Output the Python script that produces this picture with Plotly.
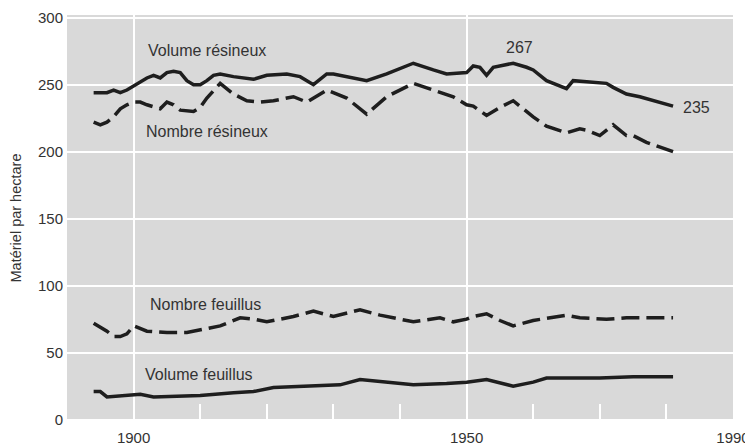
import plotly.graph_objects as go

# Volume résineux (solid, top)
vol_res_years = [1894, 1895, 1896, 1897, 1898, 1899, 1900, 1901, 1902, 1903, 1904, 1905, 1906, 1907,
                 1908, 1909, 1910, 1911, 1912, 1913, 1915, 1918, 1920, 1923, 1925, 1927, 1929, 1930,
                 1932, 1935, 1938, 1942, 1945, 1947, 1950, 1951, 1952, 1953, 1954, 1955, 1957, 1959,
                 1960, 1962, 1965, 1966, 1969, 1971, 1972, 1974, 1976, 1981]
vol_res_values = [244, 244, 244, 246, 244, 246, 249, 252, 255, 257, 255, 259, 260, 259,
                  253, 250, 250, 253, 257, 258, 256, 254, 257, 258, 256, 250, 258, 258,
                  256, 253, 258, 266, 261, 258, 259, 264, 263, 257, 263, 264, 266, 263,
                  261, 253, 247, 253, 252, 251, 248, 243, 241, 234]

# Nombre résineux (dashed, upper)
nb_res_years = [1894, 1895, 1896, 1897, 1898, 1899, 1900, 1901, 1902, 1904, 1905, 1906, 1907, 1909,
                1910, 1911, 1913, 1915, 1917, 1919, 1921, 1924, 1926, 1929, 1932, 1935, 1938, 1942,
                1945, 1948, 1950, 1951, 1953, 1955, 1957, 1960, 1962, 1965, 1967, 1968, 1970, 1972,
                1974, 1975, 1977, 1981]
nb_res_values = [222, 220, 222, 226, 232, 235, 237, 237, 235, 232, 237, 235, 231, 230,
                 233, 240, 251, 243, 238, 237, 238, 241, 237, 246, 240, 228, 241, 251,
                 246, 241, 235, 234, 227, 233, 238, 226, 219, 214, 217, 216, 212, 220,
                 212, 212, 207, 200]

# Nombre feuillus (dashed, lower)
nb_feu_years = [1894, 1895, 1896, 1897, 1898, 1899, 1900, 1902, 1905, 1908, 1911, 1913, 1916, 1918,
                1920, 1922, 1924, 1927, 1930, 1934, 1937, 1942, 1946, 1948, 1950, 1951, 1953, 1955,
                1957, 1960, 1965, 1967, 1971, 1974, 1977, 1981]
nb_feu_values = [72, 69, 66, 62, 62, 64, 70, 66, 65, 65, 68, 70, 76, 75,
                 73, 75, 77, 81, 77, 82, 78, 73, 76, 73, 75, 77, 79, 74,
                 70, 74, 78, 76, 75, 76, 76, 76]

# Volume feuillus (solid, bottom)
vol_feu_years = [1894, 1895, 1896, 1898, 1901, 1903, 1910, 1915, 1918, 1921, 1926, 1931, 1934, 1938,
                 1942, 1947, 1950, 1953, 1957, 1960, 1962, 1966, 1970, 1975, 1981]
vol_feu_values = [21, 21, 17, 18, 19, 17, 18, 20, 21, 24, 25, 26, 30, 28,
                  26, 27, 28, 30, 25, 28, 31, 31, 31, 32, 32]

x_tick_vals = [1900, 1950, 1990]
x_tick_text = ["1900", "1950", "1990"]
x_minor_vals = [1910, 1920, 1930, 1940, 1960, 1970, 1980]
y_tick_vals = [0, 50, 100, 150, 200, 250, 300]

labels = [
    ("Volume résineux", 1911, 275.5),
    ("Nombre résineux", 1911, 215),
    ("267", 1958, 278),
    ("235", 1984.5, 233),
    ("Nombre feuillus", 1910.8, 86),
    ("Volume feuillus", 1909.8, 33.5),
]

LINE = "#1e1e1e"
TEXT = "#333333"
FONT = "Liberation Sans, Arial, sans-serif"

fig = go.Figure()
fig.add_trace(go.Scatter(x=vol_res_years, y=vol_res_values, mode="lines",
                         line=dict(color=LINE, width=3.5), name="Volume résineux"))
fig.add_trace(go.Scatter(x=nb_res_years, y=nb_res_values, mode="lines",
                         line=dict(color=LINE, width=3.5, dash="18px,7px"), name="Nombre résineux"))
fig.add_trace(go.Scatter(x=nb_feu_years, y=nb_feu_values, mode="lines",
                         line=dict(color=LINE, width=3.5, dash="18px,7px"), name="Nombre feuillus"))
fig.add_trace(go.Scatter(x=vol_feu_years, y=vol_feu_values, mode="lines",
                         line=dict(color=LINE, width=3.5), name="Volume feuillus"))

for txt, xv, yv in labels:
    fig.add_annotation(x=xv, y=yv, xref="x", yref="y", text=txt, showarrow=False,
                       font=dict(family=FONT, size=16, color=TEXT))

# The page body has an 8px default margin, so the figure is sized to fit the 753x446 window.
fig.update_layout(
    width=745, height=438, autosize=False,
    margin=dict(l=59, r=20, t=7, b=25),
    plot_bgcolor="#d9d9d9", paper_bgcolor="white",
    showlegend=False,
    font=dict(family=FONT, size=15, color=TEXT),
    xaxis=dict(range=[1890, 1990], tickmode="array", tickvals=x_tick_vals, ticktext=x_tick_text,
               showgrid=True, gridcolor="white", gridwidth=2, zeroline=False, showline=False,
               ticks="", tickfont=dict(size=15, color=TEXT), automargin=False,
               ticklabelstandoff=6, ticklabeloverflow="allow",
               minor=dict(tickmode="array", tickvals=x_minor_vals, ticks="inside", ticklen=17,
                          tickwidth=2, tickcolor="white", showgrid=False)),
    yaxis=dict(range=[-1, 302], tickmode="array", tickvals=y_tick_vals,
               showgrid=True, gridcolor="white", gridwidth=2, zeroline=False, showline=False,
               ticks="", tickfont=dict(size=15, color=TEXT), automargin=False,
               ticklabelstandoff=3, ticklabeloverflow="allow",
               title=dict(text="Matériel par hectare", font=dict(size=14.5, color=TEXT))),
)

fig.write_html("out.html")
